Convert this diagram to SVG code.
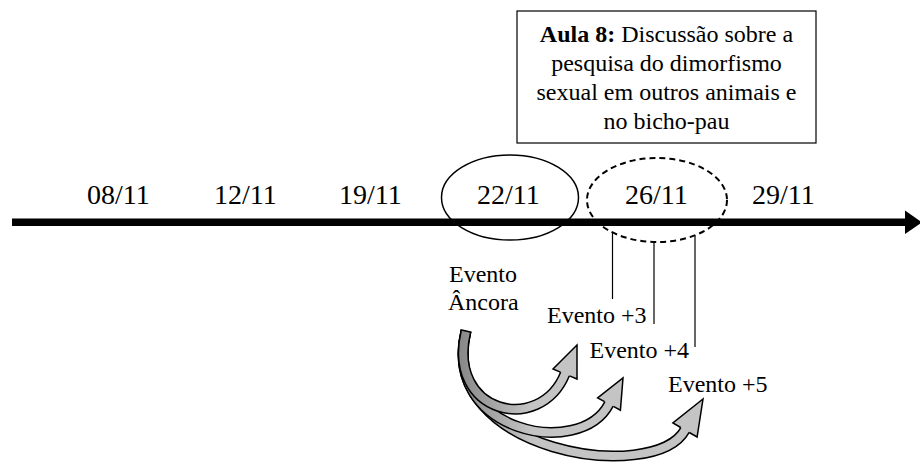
<svg xmlns="http://www.w3.org/2000/svg" width="920" height="464" viewBox="0 0 920 464">
  <defs>
    <style>
      text { font-family: "Liberation Serif", "Times New Roman", serif; fill: #000; }
      .date { font-size: 28px; }
      .lbl { font-size: 24px; }
      .note text { text-anchor: middle; font-size: 24px; }
      .tick { stroke: #000; stroke-width: 1.2; fill: none; }
      .band-o { fill: none; stroke: #000; stroke-width: 11; }
      .band-i { fill: none; stroke: url(#shade); stroke-width: 8; }
      .head { fill: #c4c4c4; stroke: none; }
      .head-o { fill: none; stroke: #000; stroke-width: 1.5; stroke-linejoin: miter; }
    </style>
    <linearGradient id="shade" gradientUnits="userSpaceOnUse" x1="462" y1="0" x2="530" y2="0">
      <stop offset="0" stop-color="#8a8a8a"/>
      <stop offset="1" stop-color="#c4c4c4"/>
    </linearGradient>
  </defs>

  <rect width="920" height="464" fill="#fff"/>

  <!-- connectors: timeline, ticks, curved arrows -->
  <g id="connectors">
    <line x1="12" y1="222.3" x2="907" y2="222.3" stroke="#000" stroke-width="7.5"/>
    <polygon points="905,210.5 922,222.3 905,234" fill="#000"/>

    <line class="tick" x1="612.5" y1="232.5" x2="612.5" y2="299"/>
    <line class="tick" x1="654" y1="242" x2="654" y2="324"/>
    <line class="tick" x1="695" y1="235.5" x2="695" y2="347"/>

    <!-- arrow to Evento +5 -->
    <g id="arrow-5">
      <path class="band-o" d="M466,331 C436,453 655,485 685,430 l0.5,-0.9"/>
      <path class="band-i" d="M466,331 C436,453 655,485 685,430 l0.5,-0.9"/>
      <polygon class="head" points="680.7,427.5 672.9,423 703,399 697.1,437 689.3,432.5"/>
      <polyline class="head-o" points="680.7,427.5 672.9,423 703,399 697.1,437 689.3,432.5"/>
    </g>
    <!-- arrow to Evento +4 -->
    <g id="arrow-4">
      <path class="band-o" d="M466,331 C441,432 580,460 609,404 l0.5,-0.9"/>
      <path class="band-i" d="M466,331 C441,432 580,460 609,404 l0.5,-0.9"/>
      <polygon class="head" points="604.6,401.6 597.6,397.8 623,378 620.4,410.2 613.4,406.4"/>
      <polyline class="head-o" points="604.6,401.6 597.6,397.8 623,378 620.4,410.2 613.4,406.4"/>
    </g>
    <!-- arrow to Evento +3 -->
    <g id="arrow-3">
      <path class="band-o" d="M466,331 C446,414 540,435 565,374 l0.4,-0.9"/>
      <path class="band-i" d="M466,331 C446,414 540,435 565,374 l0.4,-0.9"/>
      <polygon class="head" points="560.4,372.1 553,369 577,345 577,379 569.6,375.9"/>
      <polyline class="head-o" points="560.4,372.1 553,369 577,345 577,379 569.6,375.9"/>
    </g>
    <!-- shared tail edge -->
    <line x1="460.5" y1="329.7" x2="471.5" y2="332.3" stroke="#000" stroke-width="1.5"/>
  </g>

  <!-- dates on the timeline -->
  <g id="d0811"><text class="date" x="87" y="204">08/11</text></g>
  <g id="d1211"><text class="date" x="214" y="204">12/11</text></g>
  <g id="d1911"><text class="date" x="339" y="204">19/11</text></g>
  <g id="d2211">
    <ellipse cx="510" cy="197.5" rx="68.5" ry="42.5" fill="none" stroke="#000" stroke-width="1.5"/>
    <text class="date" x="477" y="204">22/11</text>
  </g>
  <g id="d2611">
    <ellipse cx="657" cy="200" rx="70" ry="42" fill="none" stroke="#000" stroke-width="2" stroke-dasharray="6 4"/>
    <text class="date" x="625" y="204">26/11</text>
  </g>
  <g id="d2911"><text class="date" x="752" y="204">29/11</text></g>

  <!-- lesson note -->
  <g id="aula8" class="note">
    <rect x="517" y="11" width="299" height="132" fill="#fff" stroke="#000" stroke-width="1.2"/>
    <text x="666.5" y="42"><tspan font-weight="bold">Aula 8:</tspan> Discussão sobre a</text>
    <text x="666.5" y="71">pesquisa do dimorfismo</text>
    <text x="666.5" y="100">sexual em outros animais e</text>
    <text x="666.5" y="129">no bicho-pau</text>
  </g>

  <!-- event labels -->
  <g id="ancora">
    <text class="lbl" x="449" y="282">Evento</text>
    <text class="lbl" x="448" y="310">Âncora</text>
  </g>
  <g id="ev3"><text class="lbl" x="547" y="323">Evento +3</text></g>
  <g id="ev4"><text class="lbl" x="589.5" y="358">Evento +4</text></g>
  <g id="ev5"><text class="lbl" x="668" y="392">Evento +5</text></g>
</svg>
